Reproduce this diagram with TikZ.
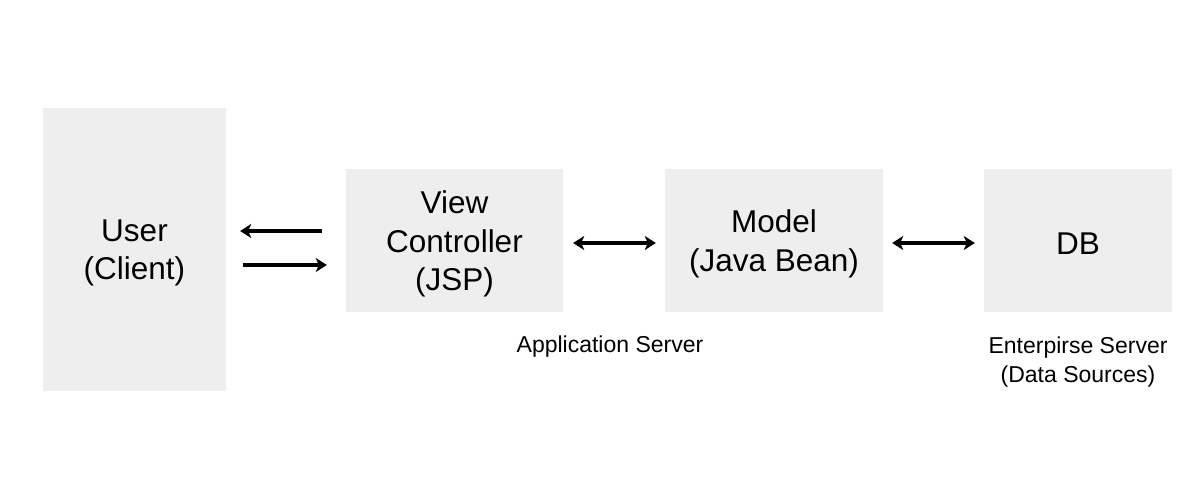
\documentclass[tikz,border=0pt]{standalone}
\usepackage{fontspec}
\setmainfont{Liberation Sans}
\usetikzlibrary{arrows.meta}
\definecolor{boxgray}{HTML}{EEEEEE}
\tikzset{
  blk/.style={fill=boxgray, draw=none, inner sep=0pt},
  txt/.style={inner sep=0pt, align=center, font=\fontsize{31.5}{38.5}\selectfont},
  lbl/.style={inner sep=0pt, align=center, font=\fontsize{23}{29}\selectfont},
  arr/.style={line width=4pt, -{Stealth[length=11pt,width=14pt,inset=3pt]}},
  darr/.style={line width=4pt, {Stealth[length=11pt,width=14pt,inset=3pt]}-{Stealth[length=11pt,width=14pt,inset=3pt]}}
}
\begin{document}
\begin{tikzpicture}[x=1pt,y=-1pt]
\useasboundingbox (0,0) rectangle (1200,500);
\node[blk, minimum width=183pt, minimum height=283pt] (user) at (134.5,249.5) {};
\node[blk, minimum width=217pt, minimum height=143pt] (view) at (454.5,240.5) {};
\node[blk, minimum width=218pt, minimum height=143pt] (model) at (774,240.5) {};
\node[blk, minimum width=188pt, minimum height=143pt] (db) at (1078,240.5) {};
\node[txt] (usert) at ([yshift=-3.5pt]user.center) {User\\(Client)};
\node[txt] (viewt) at ([yshift=-3.5pt]view.center) {View\\Controller\\(JSP)};
\node[txt] (modelt) at ([yshift=-3.5pt]model.center) {Model\\(Java Bean)};
\node[txt] (dbt) at ([yshift=-3.5pt]db.center) {DB};
\node[lbl] (app) at (610,347) {Application Server};
\node[lbl] (ent) at (1078,362) {Enterpirse Server\\(Data Sources)};
\coordinate (r1) at (0,231);
\coordinate (r2) at (0,265);
\coordinate (r3) at (0,243);
\draw[arr, shorten <=24pt, shorten >=14pt] (view.west |- r1) -- (user.east |- r1);
\draw[arr, shorten <=17pt, shorten >=19pt] (user.east |- r2) -- (view.west |- r2);
\draw[darr, shorten <=10pt, shorten >=9pt] (view.east |- r3) -- (model.west |- r3);
\draw[darr, shorten <=9pt, shorten >=9pt] (model.east |- r3) -- (db.west |- r3);
\end{tikzpicture}
\end{document}
